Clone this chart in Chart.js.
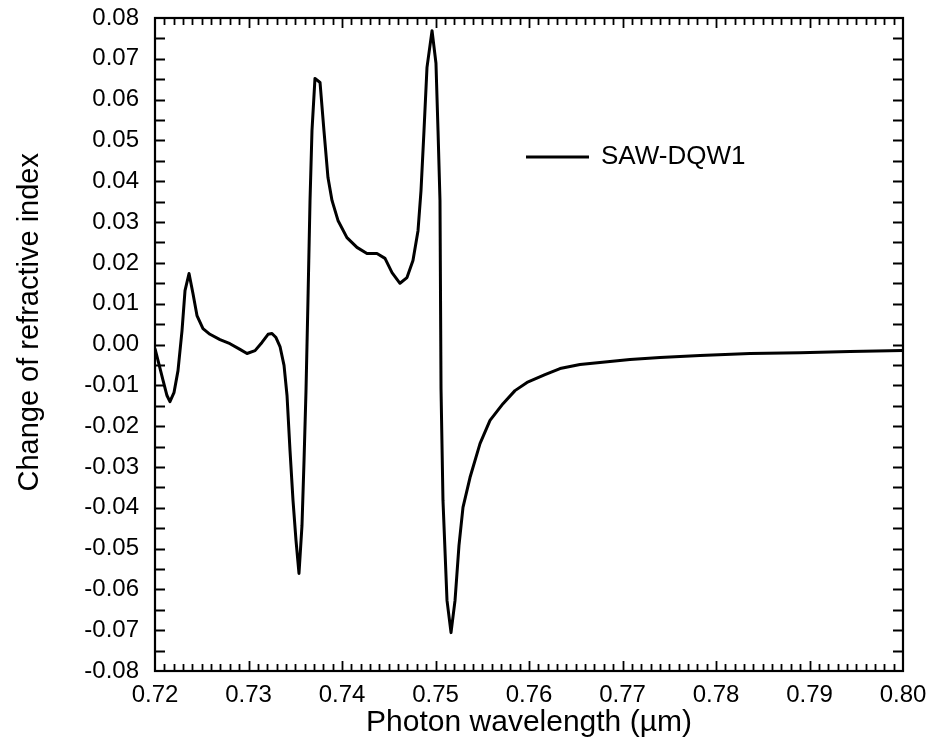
<!DOCTYPE html>
<html>
<head>
<meta charset="utf-8">
<script src="https://cdn.jsdelivr.net/npm/chart.js@4"></script>
<style>
    body { margin: 0; background: #fff; }
    canvas { display: block; }
</style>
</head>
<body>
<canvas id="dnChart" width="934" height="751"></canvas>
<script>
// wavelength (um) and change of refractive index
const wavelength = [
    0.72000, 0.72032, 0.72086, 0.72128, 0.72160, 0.72203, 0.72246, 0.72289, 0.72321, 0.72364,
    0.72406, 0.72449, 0.72513, 0.72588, 0.72695, 0.72802, 0.72909, 0.72984, 0.73070, 0.73144,
    0.73209, 0.73251, 0.73294, 0.73337, 0.73380, 0.73412, 0.73444, 0.73476, 0.73508, 0.73540,
    0.73572, 0.73594, 0.73615, 0.73636, 0.73658, 0.73679, 0.73711, 0.73765, 0.73807, 0.73850,
    0.73893, 0.73957, 0.74053, 0.74160, 0.74267, 0.74374, 0.74460, 0.74535, 0.74620, 0.74695,
    0.74759, 0.74813, 0.74845, 0.74877, 0.74909, 0.74963, 0.75005, 0.75027, 0.75048, 0.75059,
    0.75080, 0.75123, 0.75166, 0.75209, 0.75251, 0.75294, 0.75369, 0.75476, 0.75583, 0.75722,
    0.75850, 0.75979, 0.76171, 0.76332, 0.76545, 0.76759, 0.77080, 0.77401, 0.77829, 0.78364,
    0.78898, 0.79433, 0.80000,
];
const deltaN = [
    -0.0010, -0.0039, -0.0088, -0.0125, -0.0140, -0.0118, -0.0064, 0.0034, 0.0132, 0.0174,
    0.0125, 0.0071, 0.0039, 0.0025, 0.0012, 0.0002, -0.0012, -0.0022, -0.0015, 0.0005,
    0.0025, 0.0027, 0.0017, -0.0005, -0.0051, -0.0125, -0.0260, -0.0382, -0.0480, -0.0561,
    -0.0444, -0.0284, -0.0113, 0.0108, 0.0353, 0.0524, 0.0652, 0.0642, 0.0524, 0.0409,
    0.0353, 0.0304, 0.0262, 0.0238, 0.0223, 0.0223, 0.0211, 0.0176, 0.0150, 0.0164,
    0.0206, 0.0279, 0.0377, 0.0524, 0.0679, 0.0769, 0.0689, 0.0524, 0.0353, -0.0108,
    -0.0382, -0.0627, -0.0706, -0.0627, -0.0493, -0.0399, -0.0326, -0.0243, -0.0186, -0.0145,
    -0.0113, -0.0093, -0.0074, -0.0059, -0.0049, -0.0044, -0.0037, -0.0032, -0.0027, -0.0022,
    -0.0020, -0.0017, -0.0015,
];
const seriesName = "SAW-DQW1";
const xTitle = "Photon wavelength (µm)";
const yTitle = "Change of refractive index";
const xRange = [0.72, 0.80];
const yRange = [-0.08, 0.08];

const FONT = "'Liberation Sans', Arial, Helvetica, sans-serif";

// box around the plot + inward ticks on all four sides
const frameAndTicks = {
    id: "frameAndTicks",
    afterDatasetsDraw(chart) {
        const { ctx, chartArea: a, scales } = chart;
        const xs = scales.x, ys = scales.y;
        ctx.save();
        ctx.strokeStyle = "#000";
        ctx.lineWidth = 2.2;
        ctx.strokeRect(a.left, a.top, a.right - a.left, a.bottom - a.top);

        ctx.lineWidth = 1.8;
        ctx.beginPath();
        for (let i = 1; i < 80; i++) {
            const px = Math.round(xs.getPixelForValue(xRange[0] + i * 0.001)) + 0.5;
            const len = i % 10 === 0 ? 10 : 7;
            ctx.moveTo(px, a.bottom);
            ctx.lineTo(px, a.bottom - len);
            ctx.moveTo(px, a.top);
            ctx.lineTo(px, a.top + len);
        }
        for (let j = 1; j < 32; j++) {
            const py = Math.round(ys.getPixelForValue(yRange[0] + j * 0.005)) + 0.5;
            ctx.moveTo(a.left, py);
            ctx.lineTo(a.left + 10, py);
            ctx.moveTo(a.right, py);
            ctx.lineTo(a.right - 10, py);
        }
        ctx.stroke();
        ctx.restore();
    },
};

// legend entry inside the plot + the y title (sits a bit above centre in the original)
const innerLegend = {
    id: "innerLegend",
    afterDraw(chart) {
        const { ctx, chartArea: a } = chart;
        const w = a.right - a.left, h = a.bottom - a.top;
        const x0 = a.left + w * 0.496;
        const y0 = a.top + h * 0.213;
        ctx.save();
        ctx.strokeStyle = "#000";
        ctx.lineWidth = 3;
        ctx.beginPath();
        ctx.moveTo(x0, y0);
        ctx.lineTo(x0 + 63, y0);
        ctx.stroke();
        ctx.fillStyle = "#000";
        ctx.font = "26px " + FONT;
        ctx.textBaseline = "middle";
        ctx.fillText(chart.data.datasets[0].label, x0 + 75, y0);

        ctx.translate(30, a.top + h * 0.466);
        ctx.rotate(-Math.PI / 2);
        ctx.font = "29px " + FONT;
        ctx.textAlign = "center";
        ctx.fillText(yTitle, 0, 0);
        ctx.restore();
    },
};

function fmt(v) {
    if (Math.abs(v) < 1e-9) return "0.00";
    return v.toFixed(2);
}

function renderChart() {
    const ctx = document.getElementById("dnChart").getContext("2d");
    const points = wavelength.map((w, i) => ({ x: w, y: deltaN[i] }));

    new Chart(ctx, {
        type: "scatter",
        data: {
            datasets: [
                {
                    label: seriesName,
                    data: points,
                    showLine: true,
                    borderColor: "#000",
                    borderWidth: 3,
                    borderJoinStyle: "round",
                    pointRadius: 0,
                    tension: 0,
                    fill: false,
                },
            ],
        },
        options: {
            responsive: false,
            animation: false,
            layout: {
                padding: { top: 18, right: 31, left: 0, bottom: 0 },
            },
            plugins: {
                legend: { display: false },
                tooltip: { enabled: false },
            },
            scales: {
                x: {
                    type: "linear",
                    min: xRange[0],
                    max: xRange[1],
                    grid: { display: false, drawTicks: false },
                    border: { display: false },
                    ticks: {
                        stepSize: 0.01,
                        padding: 10,
                        color: "#000",
                        font: { family: FONT, size: 24 },
                        maxRotation: 0,
                        callback: (v) => fmt(v),
                    },
                    title: {
                        display: true,
                        text: xTitle,
                        color: "#000",
                        font: { family: FONT, size: 30 },
                        padding: { top: 0, bottom: 10 },
                    },
                    afterFit: (scale) => {
                        scale.height = 80;
                        scale.paddingRight = 0;
                    },
                },
                y: {
                    type: "linear",
                    min: yRange[0],
                    max: yRange[1],
                    grid: { display: false, drawTicks: false },
                    border: { display: false },
                    ticks: {
                        stepSize: 0.01,
                        padding: 16,
                        color: "#000",
                        font: { family: FONT, size: 24 },
                        callback: (v) => fmt(v),
                    },
                    afterFit: (scale) => {
                        scale.width = 155;
                        scale.paddingTop = 0;
                        scale.paddingBottom = 0;
                    },
                },
            },
        },
        plugins: [frameAndTicks, innerLegend],
    });
}

document.addEventListener("DOMContentLoaded", renderChart);
</script>
</body>
</html>
